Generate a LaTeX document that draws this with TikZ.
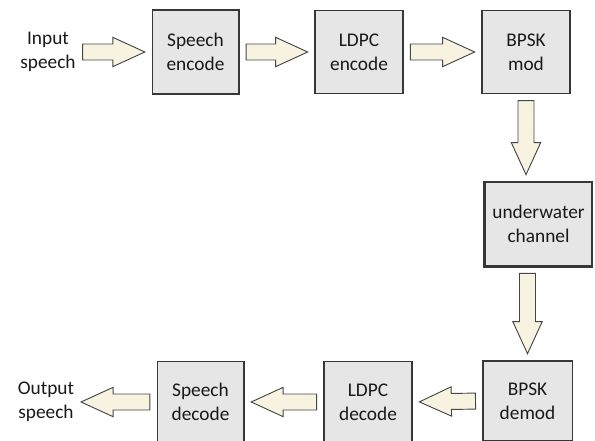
\documentclass[tikz,border=0pt]{standalone}
\usepackage{fontspec}
\setmainfont{Carlito}
\usetikzlibrary{calc}
\definecolor{boxfill}{RGB}{230,230,230}
\definecolor{boxline}{RGB}{55,55,55}
\definecolor{arrowfill}{RGB}{248,243,224}
\definecolor{arrowline}{RGB}{70,70,70}
\definecolor{textcol}{RGB}{25,25,25}
\tikzset{stage/.style={draw=boxline,fill=boxfill,line width=1pt,align=center,inner sep=0pt,text=textcol},
    label/.style={align=center,inner sep=0pt,text=textcol},
    blockarrow/.style={draw=arrowline,fill=arrowfill,line width=0.7pt,line join=miter,
    to path={let \p1=($(\tikztostart)!5pt!(\tikztotarget)$), \p2=($(\tikztotarget)!5pt!(\tikztostart)$),
        \p3=($(\p2)!24pt!(\p1)$) in
        ($(\p1)!6pt!90:(\p2)$) -- ($(\p3)!6pt!90:(\p2)$) -- ($(\p3)!11pt!90:(\p2)$) -- (\p2)
        -- ($(\p3)!11pt!-90:(\p2)$) -- ($(\p3)!6pt!-90:(\p2)$) -- ($(\p1)!6pt!-90:(\p2)$) -- cycle}}}
\begin{document}
\begin{tikzpicture}[x=0.75pt,y=-0.75pt,font=\fontsize{14.5}{18}\selectfont]
\useasboundingbox (0,0) rectangle (595,441);

%Text Nodes
\node[label] (input) at (48,52) {Input\\speech};
\node[label] (output) at (46,402) {Output\\speech};

%Top row
\node[stage,minimum width=65pt,minimum height=63pt] (spenc) at (195.5,52) {Speech\\encode};
\node[stage,minimum width=66pt,minimum height=62pt] (ldpcenc) at (359,52) {LDPC\\encode};
\node[stage,minimum width=66pt,minimum height=62pt] (bpskmod) at (526,52) {BPSK\\mod};

%Channel
\node[stage,minimum width=80pt,minimum height=63pt] (chan) at (538.5,224) {underwater\\channel};
\draw[boxline,line width=1.6pt] (chan.north west) -- (chan.south west) -- (chan.south east);

%Bottom row
\node[stage,minimum width=67pt,minimum height=60pt] (bpskdem) at (527.5,401) {BPSK\\demod};
\node[stage,minimum width=66pt,minimum height=61pt] (ldpcdec) at (368,402) {LDPC\\decode};
\node[stage,minimum width=65pt,minimum height=61pt] (spdec) at (200.5,402) {Speech\\decode};

\coordinate (down1) at (bpskmod.south |- chan.north);
\coordinate (up2) at (bpskdem.north |- chan.south);

%Block arrows
\draw[blockarrow] (input.east) to (spenc.west);
\draw[blockarrow] (spenc.east) to (ldpcenc.west);
\draw[blockarrow] (ldpcenc.east) to (bpskmod.west);
\draw[blockarrow] (bpskmod.south) to (down1);
\draw[blockarrow] (up2) to (bpskdem.north);
\draw[blockarrow] (bpskdem.west) to (ldpcdec.east);
\draw[blockarrow] (ldpcdec.west) to (spdec.east);
\draw[blockarrow] (spdec.west) to (output.east);

\end{tikzpicture}
\end{document}
